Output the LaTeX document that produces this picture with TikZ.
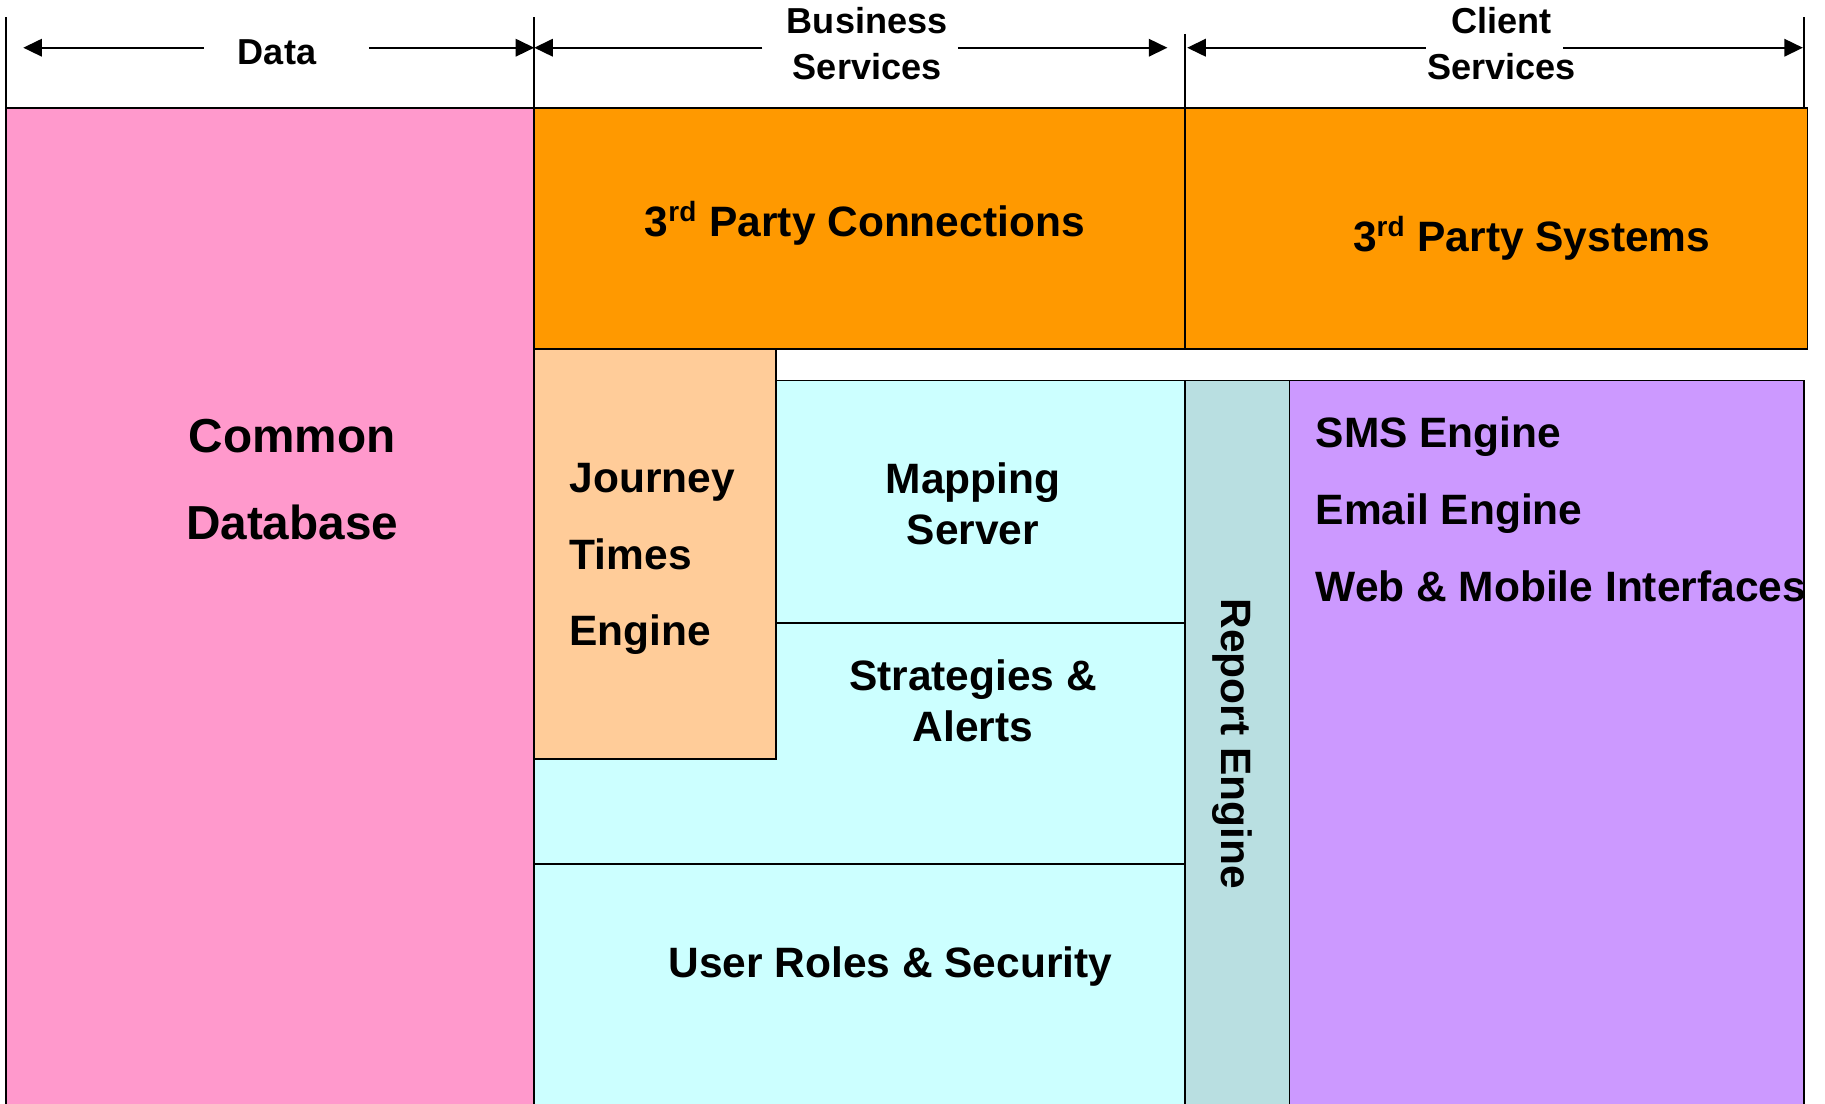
\documentclass[tikz,border=0pt]{standalone}
\usepackage{fontspec}
\setmainfont{Liberation Sans}
\usetikzlibrary{arrows.meta}
\definecolor{pinkc}{HTML}{FF99CC}
\definecolor{orangec}{HTML}{FF9900}
\definecolor{peachc}{HTML}{FFCC99}
\definecolor{cyanc}{HTML}{CCFFFF}
\definecolor{reportc}{HTML}{B9DFE1}
\definecolor{purplec}{HTML}{CC99FF}
\begin{document}
\begin{tikzpicture}[x=0.5pt,y=-0.5pt,
  edge/.style={draw=black,line width=0.75pt},
  hdr/.style={font=\fontsize{15.5}{19.5}\selectfont\bfseries,inner sep=0pt,align=center},
  body/.style={font=\fontsize{18.25}{22}\selectfont\bfseries,inner sep=0pt},
  span/.style={line width=0.9pt,-{Triangle[length=8pt,width=7.5pt]}}]
\useasboundingbox (0,0) rectangle (1568,948);

% fills
\fill[pinkc]   (5,93)    rectangle (459,960);
\fill[orangec] (459,93)  rectangle (1553,300);
\fill[cyanc]   (459,327) rectangle (1018,960);
\fill[peachc]  (459,300) rectangle (667,652);
\fill[reportc] (1018,327) rectangle (1108,960);
\fill[purplec] (1108,327) rectangle (1550,960);

% borders
\draw[edge] (5,15) -- (5,960);
\draw[edge] (459,15) -- (459,960);
\draw[edge] (1018,29) -- (1018,300);
\draw[edge] (1018,327) -- (1018,960);
\draw[edge] (1550,15) -- (1550,93);
\draw[edge] (5,93) -- (1553,93) -- (1553,300);
\draw[edge,line width=1pt] (459,300) -- (1553,300);
\draw[edge] (667,300) -- (667,652) -- (459,652);
\draw[edge] (667,327) -- (1550,327) -- (1550,960);
\draw[edge] (667,535) -- (1018,535);
\draw[edge] (459,742) -- (1018,742);
\draw[edge] (1108,327) -- (1108,960);

% header labels
\node[hdr,anchor=base] (data) at (238,55) {Data};
\node[hdr] (bus) at (745,37.5) {Business\\Services};
\node[hdr] (cli) at (1290,37.5) {Client\\Services};

% header span arrows
\coordinate (dL) at (20,41);   \coordinate (dR) at (459,41);
\coordinate (bL) at (459,41);  \coordinate (bR) at (1003,41);
\coordinate (cL) at (1020,41); \coordinate (cR) at (1549,41);
\draw[span] (175,41) -- (dL);
\draw[span] (317,41) -- (dR);
\draw[span] (655,41) -- (bL);
\draw[span] (823,41) -- (bR);
\draw[span] (1225,41) -- (cL);
\draw[span] (1343,41) -- (cR);

% box labels
\node[body,font=\fontsize{20.5}{37}\selectfont\bfseries,align=center] (db) at (251,412) {Common\\Database};
\node[body,anchor=base] (tpc) at (743,203) {3\textsuperscript{\fontsize{12}{12}\selectfont rd} Party Connections};
\node[body,anchor=base] (tps) at (1316,216) {3\textsuperscript{\fontsize{12}{12}\selectfont rd} Party Systems};
\node[body,font=\fontsize{18.25}{32.75}\selectfont\bfseries,align=left,anchor=north west] (jte) at (489,398) {Journey\\Times\\Engine};
\node[body,font=\fontsize{18.25}{22}\selectfont\bfseries,align=center] (map) at (836,433) {Mapping\\Server};
\node[body,font=\fontsize{18.25}{22}\selectfont\bfseries,align=center] (strat) at (836,602) {Strategies \&\\Alerts};
\node[body,anchor=base] (urs) at (765,840) {User Roles \& Security};
\node[body,rotate=-90] (rep) at (1059,639) {Report Engine};
\node[body,font=\fontsize{18.25}{33}\selectfont\bfseries,align=left,anchor=north west] (cs) at (1130,358) {SMS Engine\\Email Engine\\Web \& Mobile Interfaces};
\end{tikzpicture}
\end{document}
